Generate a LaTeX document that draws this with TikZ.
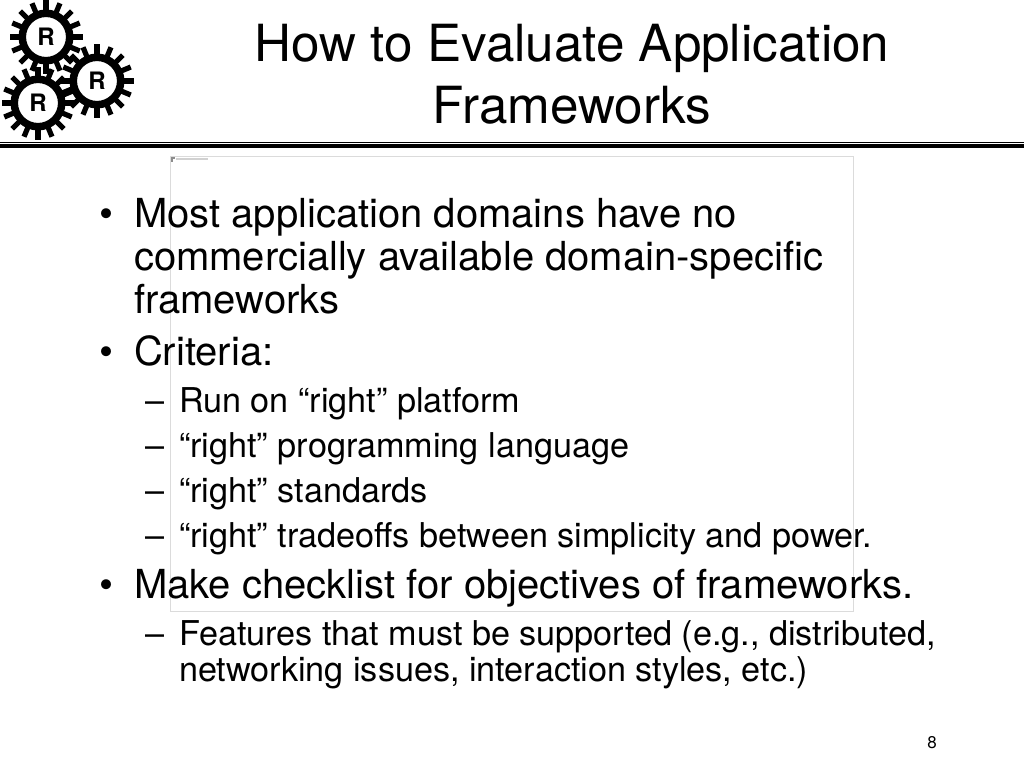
\documentclass[tikz,border=0pt]{standalone}
\usepackage{fontspec}
\setmainfont{TeX Gyre Heros}
\usetikzlibrary{calc}
\tikzset{
  x=1pt,y=-1pt,
  line/.style={anchor=base west,inner sep=0pt,outer sep=0pt},
  titletext/.style={anchor=base,inner sep=0pt,font=\fontsize{51.2}{60}\selectfont},
  lvla/.style={line,font=\fontsize{40}{42}\selectfont},
  lvlb/.style={line,font=\fontsize{34.2}{36}\selectfont},
  ghost/.style={draw=black!14,line width=1pt},
  gearlabel/.style={inner sep=0pt,font=\fontsize{24}{24}\selectfont\bfseries}
}
\newcommand{\gearat}[3]{%
  \foreach \a in {0,22.5,...,337.5}{
    \draw[line width=5.2pt] ($(#1,#2)+(\a:21)$) -- ($(#1,#2)+(\a:36.5)$);
  }
  \draw[line width=7.5pt,fill=white] (#1,#2) circle[radius=23.7];
  \node[gearlabel] (#3) at (#1,#2) {R};
}
\begin{document}
\begin{tikzpicture}
\useasboundingbox (0,0) rectangle (1024,768);
\fill[white] (0,0) rectangle (1024,768);
% pale frame
\draw[ghost] (170.5,156.5) rectangle (853.5,611.5);
\fill[black!45] (171,157) rectangle (175,159);
\fill[black!45] (171,157) rectangle (172.5,162);
\fill[black!18] (176,157.5) rectangle (208,159.5);
% gears
\gearat{46}{37}{ga}
\gearat{38}{103}{gc}
\gearat{97}{81}{gb}
% rules
\fill[black] (0,141.6) rectangle (1024,142.8);
\fill[black] (0,144.2) rectangle (1024,148.2);
% title
\node[titletext] (t1) at (572,62) {How to Evaluate Application};
\node[titletext] (t2) at (572,123) {Frameworks};
% body
\node[lvla] (b1) at (99,227) {•};
\node[lvla] (l1) at (134,227) {Most application domains have no};
\node[lvla] (l2) at (134,270) {commercially available domain-specific};
\node[lvla] (l3) at (134,313) {frameworks};
\node[lvla] (b2) at (99,365.5) {•};
\node[lvla] (l4) at (134,365.5) {Criteria:};
\node[lvlb] (d1) at (145,412) {–};
\node[lvlb] (l5) at (179,412) {Run on “right” platform};
\node[lvlb] (d2) at (145,457) {–};
\node[lvlb] (l6) at (179,457) {“right” programming language};
\node[lvlb] (d3) at (145,502) {–};
\node[lvlb] (l7) at (179,502) {“right” standards};
\node[lvlb] (d4) at (145,547) {–};
\node[lvlb] (l8) at (179,547) {“right” tradeoffs between simplicity and power.};
\node[lvla] (b3) at (99,598) {•};
\node[lvla] (l9) at (134,598) {Make checklist for objectives of frameworks.};
\node[lvlb] (d5) at (145,645) {–};
\node[lvlb] (l10) at (179,645) {Features that must be supported (e.g., distributed,};
\node[lvlb] (l11) at (179,681) {networking issues, interaction styles, etc.)};
\node[anchor=base east,inner sep=0pt,font=\fontsize{17}{18}\selectfont] (pg) at (937,748) {8};
\end{tikzpicture}
\end{document}
